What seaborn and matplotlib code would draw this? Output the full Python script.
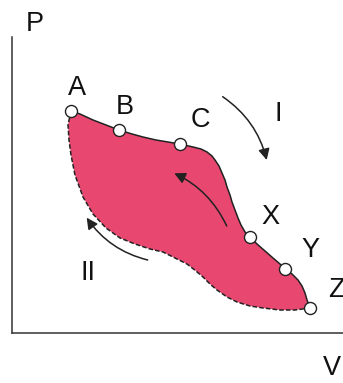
import matplotlib
matplotlib.use("Agg")
import matplotlib.pyplot as plt
import seaborn as sns
import pandas as pd
from matplotlib.patches import FancyArrowPatch

# ---- data (V, P in arbitrary units) ----
upper_V = [59, 68, 81, 94, 107, 120, 131, 144, 156, 168, 181, 189, 195, 200, 203,
           207, 210, 213, 215, 218, 220, 223, 226, 229, 233, 238, 245, 253, 261,
           268, 273, 280, 286, 290, 293, 295, 297, 298]
upper_P = [222, 219, 213, 208, 203, 199, 196, 193, 191, 189, 186, 184, 181, 177, 173,
           167, 160, 153, 146, 138, 131, 123, 115, 108, 101, 96, 89, 82, 75,
           69, 64, 59, 53, 47, 40, 33, 28, 25]

lower_V = [59, 56, 57, 59, 63, 71, 81, 94, 108, 123, 138, 151, 165, 175, 184,
           191, 198, 205, 215, 225, 238, 251, 268, 283, 298]
lower_P = [222, 208, 193, 178, 158, 136, 119, 105, 95, 89, 84, 81, 74, 69, 62,
           56, 49, 43, 36, 31, 27, 25, 23, 23, 25]

state_names = ["A", "B", "C", "X", "Y", "Z"]
state_V = [59, 107, 168, 238, 273, 298]
state_P = [222, 203, 189, 96, 64, 25]

# label positions
label_text = ["A", "B", "C", "X", "Y", "Z", "I", "II"]
label_V = [65, 113, 188, 258, 298, 324, 266, 76]
label_P = [245, 226, 213, 116, 83, 43, 219, 60]

fill_color = "#E84870"

sns.set_theme(style="white")
plt.rcParams['font.family'] = ['Liberation Sans', 'DejaVu Sans']

fig = plt.figure(figsize=(3.43, 3.83), dpi=100)
ax = fig.add_axes([12 / 343, 50 / 383, 331 / 343, 296 / 383])
ax.set_xlim(0, 331)
ax.set_ylim(0, 296)

up = pd.DataFrame({"V": upper_V, "P": upper_P})
lo = pd.DataFrame({"V": lower_V, "P": lower_P})
st = pd.DataFrame({"V": state_V, "P": state_P})

# fill region
ax.fill(list(upper_V) + list(lower_V[::-1]), list(upper_P) + list(lower_P[::-1]),
        color=fill_color, lw=0, zorder=1)

sns.lineplot(data=lo, x="V", y="P", sort=False, estimator=None, ax=ax,
             color="#222222", lw=1.1, linestyle=(0, (3, 1.4)), zorder=2)
sns.lineplot(data=up, x="V", y="P", sort=False, estimator=None, ax=ax,
             color="#222222", lw=1.1, zorder=3)

sns.scatterplot(data=st, x="V", y="P", ax=ax, s=75, color="white",
                edgecolor="#222222", linewidth=1.0, zorder=5, clip_on=False)

# arrows
arrows = [((210.7, 236.3), (254.7, 173.0), -0.19),
          ((214.7, 107.0), (162.3, 159.7), 0.18),
          ((135.7, 73.0), (74.7, 115.3), -0.19)]
for (t, h, r) in arrows:
    ax.add_patch(FancyArrowPatch(t, h, connectionstyle=f"arc3,rad={r}",
                                 arrowstyle="-|>,head_length=0.55,head_width=0.28",
                                 mutation_scale=12, lw=1.1, color="#222222",
                                 zorder=4, shrinkA=0, shrinkB=0))

for txt, v, p in zip(label_text, label_V, label_P):
    ax.text(v, p, txt, fontsize=19.5, ha="center", va="center",
            color="#111111", clip_on=False)

ax.text(23, 309, "P", fontsize=19.5, ha="center", va="center", color="#111111", clip_on=False)
ax.text(320, -35, "V", fontsize=19.5, ha="center", va="center", color="#111111", clip_on=False)

ax.set_xlabel("")
ax.set_ylabel("")
ax.set_xticks([])
ax.set_yticks([])
for side in ["top", "right"]:
    ax.spines[side].set_visible(False)
for side in ["left", "bottom"]:
    ax.spines[side].set_color("#333333")
    ax.spines[side].set_linewidth(1.1)
if ax.get_legend():
    ax.get_legend().remove()

fig.savefig("out.png", dpi=100)
